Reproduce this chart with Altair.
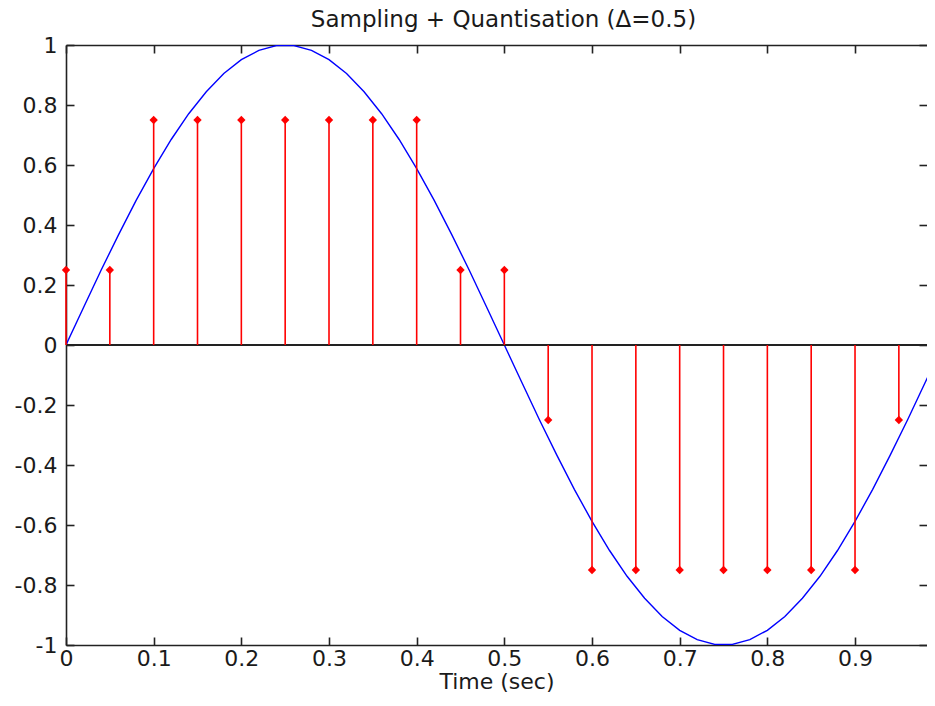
import altair as alt
import pandas as pd

# ---- data ----
sine_t = [0.00, 0.02, 0.04, 0.06, 0.08, 0.10, 0.12, 0.14, 0.16, 0.18,
          0.20, 0.22, 0.24, 0.26, 0.28, 0.30, 0.32, 0.34, 0.36, 0.38,
          0.40, 0.42, 0.44, 0.46, 0.48, 0.50, 0.52, 0.54, 0.56, 0.58,
          0.60, 0.62, 0.64, 0.66, 0.68, 0.70, 0.72, 0.74, 0.76, 0.78,
          0.80, 0.82, 0.84, 0.86, 0.88, 0.90, 0.92, 0.94, 0.96, 0.98, 0.99]
sine_v = [0.00, 0.125, 0.249, 0.368, 0.482, 0.588, 0.685, 0.771, 0.844, 0.905,
          0.951, 0.982, 0.998, 0.998, 0.982, 0.951, 0.905, 0.844, 0.771, 0.685,
          0.588, 0.482, 0.368, 0.249, 0.125, 0.00, -0.125, -0.249, -0.368, -0.482,
          -0.588, -0.685, -0.771, -0.844, -0.905, -0.951, -0.982, -0.998, -0.998, -0.982,
          -0.951, -0.905, -0.844, -0.771, -0.685, -0.588, -0.482, -0.368, -0.249, -0.125, -0.063]

stem_t = [0.00, 0.05, 0.10, 0.15, 0.20, 0.25, 0.30, 0.35, 0.40, 0.45,
          0.50, 0.55, 0.60, 0.65, 0.70, 0.75, 0.80, 0.85, 0.90, 0.95]
stem_v = [0.25, 0.25, 0.75, 0.75, 0.75, 0.75, 0.75, 0.75, 0.75, 0.25,
          0.25, -0.25, -0.75, -0.75, -0.75, -0.75, -0.75, -0.75, -0.75, -0.25]

x_ticks = [0, 0.1, 0.2, 0.3, 0.4, 0.5, 0.6, 0.7, 0.8, 0.9]
y_ticks = [-1, -0.8, -0.6, -0.4, -0.2, 0, 0.2, 0.4, 0.6, 0.8, 1]
x_domain = [0, 0.9821]
y_domain = [-1, 1]

title_text = "Sampling + Quantisation (\u0394=0.5)"
x_title = "Time (sec)"

# ---- tables ----
sine_df = pd.DataFrame({"t": sine_t, "v": sine_v})
stem_df = pd.DataFrame({"t": stem_t, "v": stem_v})
base_df = pd.DataFrame({"z": [0]})

FONT = "DejaVu Sans"
AX = "#222222"
TXT = "#1a1a1a"
inward = alt.ExprRef(expr="-8")

common = dict(domainColor=AX, domainWidth=1.6, tickColor=AX, tickWidth=1.6,
              tickSize=inward, grid=False, labelFont=FONT, labelFontSize=22,
              labelColor=TXT)

x_scale = alt.Scale(domain=x_domain, nice=False, zero=False)
y_scale = alt.Scale(domain=y_domain, nice=False)

x_bottom = alt.Axis(values=x_ticks, labelExpr="'' + datum.value", labelPadding=11,
                    labelFlush=False, title=x_title, titleFont=FONT, titleFontSize=22,
                    titleFontWeight="normal", titleColor=TXT, titleY=43,
                    titleBaseline="alphabetic", **common)
y_left = alt.Axis(values=y_ticks, labelExpr="'' + datum.value", labelPadding=17,
                  labelFlush=False, title=None, **common)
x_top = alt.Axis(orient="top", values=x_ticks, labels=False, title=None, **common)
y_right = alt.Axis(orient="right", values=y_ticks, labels=False, title=None,
                   domain=False, **common)

sine = alt.Chart(sine_df).mark_line(color="#0000ff", strokeWidth=1.4, clip=True).encode(
    x=alt.X("t:Q", scale=x_scale, axis=x_bottom),
    y=alt.Y("v:Q", scale=y_scale, axis=y_left),
)

baseline = alt.Chart(base_df).mark_rule(color=AX, strokeWidth=2).encode(
    y=alt.Y("z:Q", scale=y_scale, axis=None),
)

stems = alt.Chart(stem_df).mark_rule(color="#ff0000", strokeWidth=1.6).encode(
    x=alt.X("t:Q", scale=x_scale, axis=x_top),
    y=alt.Y("v:Q", scale=y_scale, axis=y_right),
    y2=alt.datum(0),
)

heads = alt.Chart(stem_df).mark_point(shape="diamond", filled=True, color="#ff0000",
                                      size=70, opacity=1).encode(
    x=alt.X("t:Q", scale=x_scale, axis=None),
    y=alt.Y("v:Q", scale=y_scale, axis=None),
)

chart = alt.layer(sine, baseline, stems, heads).resolve_axis(
    x="independent", y="independent"
).properties(
    width=861,
    height=600,
    autosize=alt.AutoSizeParams(type="none"),
    padding={"left": 58, "top": 37, "right": 0, "bottom": 48},
    title=alt.TitleParams(title_text, font=FONT, fontSize=23, fontWeight="normal",
                          color=TXT, offset=2, dx=7),
).configure_view(stroke=None)

chart.save("out.html", embed_options={"renderer": "svg", "actions": False})
